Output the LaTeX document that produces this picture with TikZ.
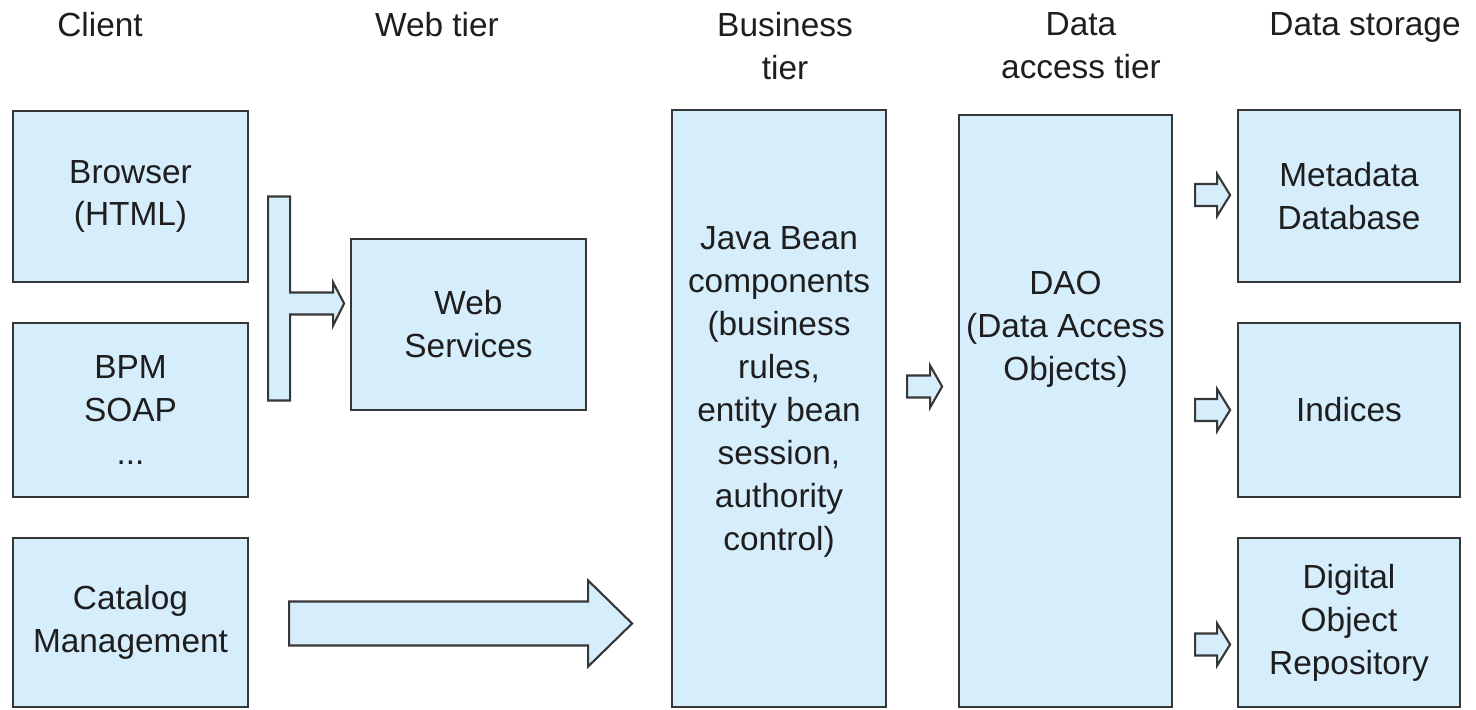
\documentclass[tikz,border=0pt]{standalone}
\usepackage{fontspec}
\setmainfont{Liberation Sans}
\usetikzlibrary{calc}

\definecolor{boxfill}{RGB}{214,238,251}
\definecolor{boxline}{RGB}{55,55,55}
\definecolor{textcol}{RGB}{30,30,30}

\tikzset{
every node/.style={font=\fontsize{9.5}{12.2}\selectfont,text=textcol},
box/.style= {rectangle,draw=boxline,line width=0.6pt,fill=boxfill,align=center,inner sep=0pt},
sidebox/.style= {box,minimum width=2.35cm,minimum height=1.71cm},
storebox/.style= {box,minimum width=2.22cm,minimum height=1.72cm},
tallbox/.style= {box,minimum width=2.14cm,minimum height=5.95cm},
head/.style= {align=center,inner sep=0pt,anchor=north},
txt/.style= {align=center,inner sep=0pt},
arrowline/.style= {draw=boxline,line width=0.6pt,fill=boxfill,line join=miter},
pics/blockarrow/.style n args={4}{code={
  \path[arrowline] (0,-#2) -- ({#1-#4},-#2) -- ({#1-#4},-#3) -- (#1,0)
    -- ({#1-#4},#3) -- ({#1-#4},#2) -- (0,#2) -- cycle;}}
}

\begin{document}
\begin{tikzpicture}[x=0.01cm,y=-0.01cm]
\useasboundingbox (0,0) rectangle (1476,709);

% tier headings
\node[head] (hclient) at (100,12) {Client};
\node[head] (hweb) at (437,12) {Web tier};
\node[head] (hbus) at (785,12) {Business\\tier};
\node[head] (hdao) at (1081,12) {Data\\access tier};
\node[head] (hstore) at (1365,12) {Data storage};

% client column
\node[sidebox] (browser) at (130.5,196.5) {Browser\\(HTML)};
\node[sidebox,minimum height=1.74cm] (bpm) at (130.5,410) {BPM\\SOAP\\...};
\node[sidebox,minimum height=1.69cm] (catalog) at (130.5,622.5) {Catalog\\Management};

% web tier
\node[sidebox] (websvc) at (468.5,324.5) {Web\\Services};

% business and data access tiers
\node[tallbox,minimum height=5.97cm] (java) at (779,408.5) {};
\node[txt] (javatext) at (779,392) {Java Bean\\components\\(business\\rules,\\entity bean\\session,\\authority\\control)};
\node[tallbox,minimum width=2.13cm,minimum height=5.92cm] (dao) at (1065.5,411) {};
\node[txt] (daotext) at (1065.5,329) {DAO\\(Data Access\\Objects)};

% data storage
\node[storebox] (metadata) at (1349,196) {Metadata\\Database};
\node[storebox,minimum height=1.74cm] (indices) at (1349,410) {Indices};
\node[storebox,minimum height=1.69cm] (digital) at (1349,622.5) {Digital\\Object\\Repository};

% block arrows
\coordinate (tee) at ($(browser.east)+(19,0)$);
\path[arrowline] (tee) -- ++(22,0) -- ++(0,96) -- ++(43,0) -- ++(0,-10) -- ++(11,21)
  -- ++(-11,22) -- ++(0,-11) -- ++(-43,0) -- ++(0,86) -- ++(-22,0) -- cycle;

\path ($(catalog.east)+(40,1)$) pic {blockarrow={343}{22}{43}{44}};
\path ($(java.east)+(20,-22)$) pic {blockarrow={35}{11}{21}{12}};

\foreach \store/\dy in {metadata/-1,indices/0,digital/22}
  \path ($(dao.east|-\store.west)+(22,\dy)$) pic {blockarrow={35}{11}{21}{13}};
\end{tikzpicture}
\end{document}
